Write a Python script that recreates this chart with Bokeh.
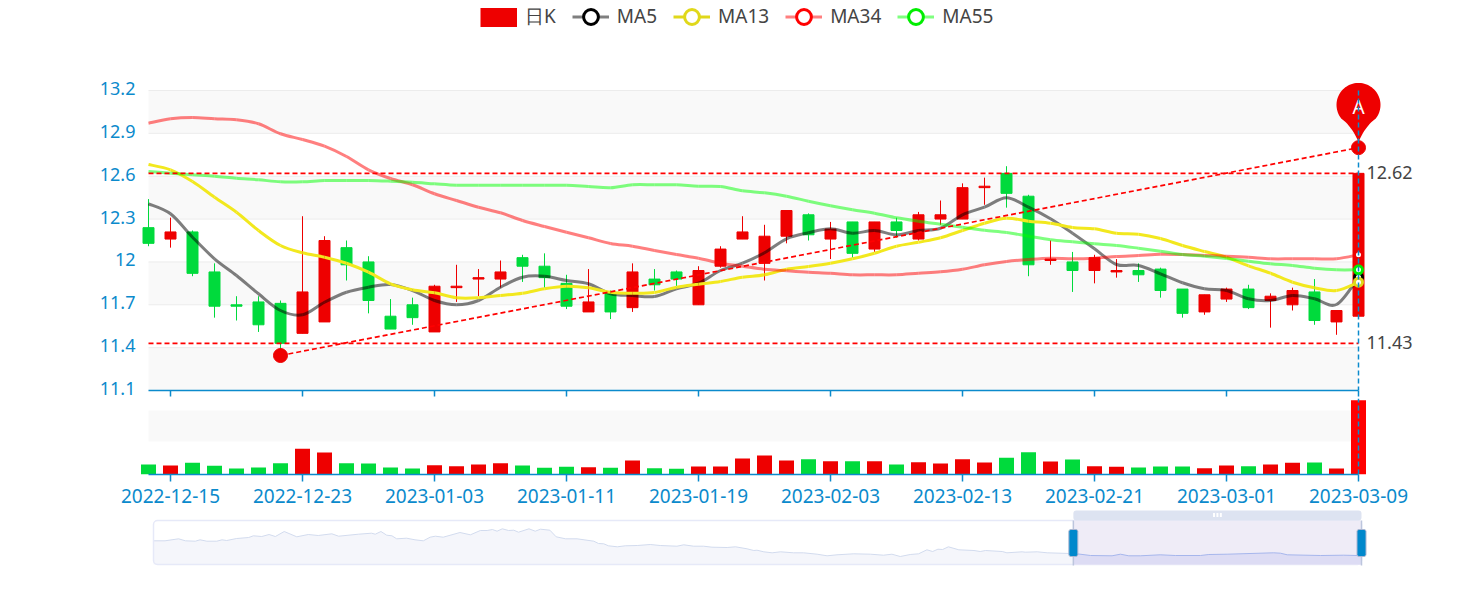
from bokeh.plotting import figure
from bokeh.layouts import column
from bokeh.models import (FixedTicker, Range1d, Legend, LegendItem, LinearAxis)
from bokeh.core.properties import value
from bokeh.embed import file_html
from bokeh.resources import INLINE
import numpy as np

# ---------- data ----------
tick_index = [1, 7, 13, 19, 25, 31, 37, 43, 49, 55]
tick_dates = ["2022-12-15", "2022-12-23", "2023-01-03", "2023-01-11", "2023-01-19",
              "2023-02-03", "2023-02-13", "2023-02-21", "2023-03-01", "2023-03-09"]
price_ticks = [11.1, 11.4, 11.7, 12.0, 12.3, 12.6, 12.9, 13.2]
price_labels = ["11.1", "11.4", "11.7", "12", "12.3", "12.6", "12.9", "13.2"]

open_ = [12.24,12.16,12.21,11.93,11.70,11.72,11.71,11.50,11.58,12.10,12.00,11.62,11.70,11.51,
         11.82,11.88,11.88,12.03,11.97,11.85,11.65,11.78,11.68,11.88,11.93,11.70,11.97,12.16,
         11.99,12.18,12.33,12.16,12.28,12.09,12.28,12.16,12.30,12.30,12.52,12.62,12.46,12.01,
         12.00,11.94,11.93,11.94,11.95,11.81,11.65,11.74,11.81,11.73,11.70,11.79,11.58,11.62]
close = [12.13,12.21,11.92,11.69,11.69,11.56,11.43,11.79,12.15,11.98,11.73,11.53,11.61,11.83,
         11.83,11.89,11.93,11.97,11.89,11.69,11.72,11.65,11.93,11.84,11.88,11.94,12.09,12.21,
         12.18,12.36,12.19,12.23,12.06,12.28,12.22,12.33,12.33,12.52,12.53,12.48,11.98,12.02,
         11.94,12.03,11.94,11.91,11.80,11.64,11.77,11.81,11.68,11.76,11.80,11.59,11.66,12.62]
low = [12.11,12.10,11.90,11.61,11.59,11.51,11.39,11.50,11.58,11.87,11.64,11.53,11.56,11.51,
       11.72,11.76,11.82,11.86,11.82,11.67,11.65,11.60,11.65,11.80,11.83,11.70,11.96,12.16,
       11.87,12.13,12.15,12.02,12.03,12.07,12.17,12.15,12.26,12.30,12.40,12.38,11.90,11.98,
       11.79,11.85,11.89,11.86,11.75,11.61,11.63,11.72,11.67,11.54,11.66,11.56,11.49,11.62]
high = [12.44,12.31,12.22,11.99,11.76,11.76,11.73,12.32,12.18,12.15,12.04,11.74,11.75,11.84,
        11.98,11.95,12.01,12.05,12.06,11.91,11.95,11.80,11.99,11.95,11.94,11.97,12.11,12.32,
        12.26,12.36,12.34,12.28,12.28,12.28,12.31,12.35,12.43,12.55,12.59,12.67,12.47,12.15,
        12.07,12.05,12.02,11.99,11.96,11.81,11.77,11.82,11.84,11.78,11.82,11.88,11.66,12.62]

ma5 = [12.407,12.337,12.173,12.022,11.905,11.777,11.66,11.63,11.718,11.788,11.823,11.842,11.80,11.73,
       11.70,11.73,11.823,11.893,11.90,11.87,11.847,11.777,11.765,11.758,11.812,11.851,11.94,11.991,
       12.064,12.162,12.204,12.232,12.201,12.22,12.19,12.22,12.236,12.33,12.383,12.449,12.383,12.302,
       12.201,12.092,11.982,11.975,11.917,11.854,11.812,11.80,11.742,11.73,11.765,11.742,11.702,11.893]
ma13 = [12.682,12.645,12.563,12.453,12.348,12.22,12.115,12.064,12.033,11.991,11.928,11.847,11.805,11.784,
        11.749,11.749,11.765,11.781,11.812,11.83,11.819,11.788,11.781,11.786,11.823,11.844,11.863,11.893,
        11.91,11.949,11.968,11.991,12.022,12.061,12.11,12.138,12.169,12.22,12.271,12.306,12.285,12.271,
        12.241,12.232,12.201,12.194,12.164,12.115,12.073,12.033,11.973,11.921,11.858,11.819,11.80,11.858]
ma34 = [12.971,13.002,13.011,13.002,12.995,12.967,12.897,12.857,12.81,12.738,12.645,12.584,12.54,12.477,
        12.43,12.383,12.344,12.29,12.248,12.208,12.169,12.129,12.11,12.08,12.052,12.026,11.991,11.97,
        11.949,11.938,11.928,11.921,11.91,11.91,11.91,11.921,11.931,11.949,11.98,12.003,12.017,12.026,
        12.022,12.026,12.038,12.045,12.054,12.052,12.045,12.04,12.033,12.022,12.022,12.022,12.022,12.05]
ma55 = [12.633,12.621,12.61,12.60,12.586,12.575,12.561,12.561,12.57,12.57,12.57,12.565,12.558,12.547,
        12.537,12.537,12.537,12.537,12.537,12.537,12.528,12.519,12.54,12.54,12.54,12.53,12.528,12.498,
        12.484,12.46,12.425,12.393,12.365,12.341,12.309,12.285,12.264,12.243,12.222,12.206,12.18,12.155,
        12.141,12.127,12.115,12.096,12.075,12.052,12.04,12.024,12.005,11.987,11.975,11.956,11.945,11.945]

volume = [10,9,11.7,8.7,6,7,11.3,25.7,22,11.3,11,7,6,9.3,8.3,10,11.3,9,6.7,7.7,7.3,6.7,14,6.3,5.7,8,8,16,
          19,14,15.3,13.3,13.3,13.3,10,12.3,11,15.3,12,16.7,22.3,13,15,8.3,7.7,7,8,8,6.3,9,8.3,10,11.7,12,6,74.3]
volume_band = [33, 64]

mark_high = 12.62
mark_low = 11.43
trend_index = [6, 55]
trend_price = [11.345, 12.80]
pin_index = 55
pin_price = 12.84

shadow_day = [0,2.2,4.8,6.1,8,8.9,10.2,12.1,13.1,14,15.9,18.2,19.1,20.7,22.1,23.3,25,27.4,29.6,31.5,34.1,35.4,39.2,41.7,
              42.4,43.5,44.6,45.6,46.5,48.4,50,51.6,52.9,53.9,55.4,58.6,60.6,62.5,63.8,64.8,65.7,66.7,67.9,68.9,69.8,
              71.8,73,74,75.8,77,78.8,81,84.2,85.1,86.1,87,88.7,90.2,92.5,95,96.9,100.1,101.4,103.3,105.2,106.8,109.7,
              111.3,113.5,114.8,115.4,116.7,118.3,119.9,122.4,124.3,126.9,128.8,130.7,133.9,137.1,139.6,141.2,142.8,
              144.7,146.3,147.9,149,150,150.9,152,154,156.9,158.1,159.1,162.3,163.2,166.1,166.7,169,170.9,175.3,176.6,
              179.2,183.3,184.9,186.5,188.7,192.5,195.4,200.2,201.8,205.3,214.2,215.5,216.8,223.2,227.6,230.2,231]
shadow_level = [23.7,23.7,25.7,23.7,23.3,24.7,23.3,23.3,24.7,24,26,27,28.7,28,30,28,33,27.7,30,29,30.7,28.3,30.3,31.3,
                30.3,33,29.3,28.7,25.7,26.3,24.7,23.7,27.3,28.3,27.3,32,29.7,34,34,35,33.3,35.7,34,34.3,32.3,
                35.7,33.3,35.3,34.3,27.7,25.7,25.7,23.3,21,20.7,18.7,17.7,18.7,19,20,19,18.3,19.7,18.3,18.3,17.3,17,
                17.7,15.7,14,14.3,12.7,11.7,12.7,11.7,11.7,10.3,8.7,9.7,10.7,10.3,9.3,10.3,8,
                10,10.7,14.7,13,15.3,15,17.7,14.7,14,13,14,13,11.7,12.7,12.3,12.7,11.7,11,10.7,
                9,8.7,10.3,8.7,8.7,9.7,9,9,10,10.3,11.7,11.3,9.7,9,9.3,9,9]
selection_days = (175.9, 231.0)

# ---------- styling ----------
RED, GREEN = "#ee0000", "#00da3c"
BLUE = "#0b8acc"
FONT = "Noto Sans"
FS = "18px"
idx = np.arange(len(close))
PX_X = 22.0
PX_Y = 1 / 0.007
Y_TOP = 13.2 + (90 - 8) / PX_Y
LEFT = 140          # frame starts here on the page
X_RANGE = (-8 / PX_X, (1460 - 148) / PX_X)


def base(frame_h, total_h, xr, yr, top, bottom):
    f = figure(output_backend="svg", toolbar_location=None, x_range=xr, y_range=yr,
               width=1460, height=total_h, frame_height=frame_h,
               min_border_left=LEFT, min_border_right=0, min_border_top=top, min_border_bottom=bottom,
               outline_line_color=None, background_fill_color="white", border_fill_color="white")
    f.grid.visible = False
    return f


def style_xaxis(f):
    ax = f.xaxis[0]
    ax.ticker = FixedTicker(ticks=tick_index)
    ax.bounds = (0, len(close) - 1)
    ax.axis_line_color = BLUE
    ax.axis_line_width = 1.5
    ax.major_tick_line_color = BLUE
    ax.major_tick_line_width = 1.5
    ax.major_tick_in = 0
    ax.minor_tick_line_color = None
    return ax


def smooth(f, ys, **kw):
    y = np.array(ys)
    x = idx.astype(float)
    xm1 = np.r_[x[0], x[:-1]]
    xp1 = np.r_[x[1:], x[-1]]
    ym1 = np.r_[y[0], y[:-1]]
    yp1 = np.r_[y[1:], y[-1]]
    dx = (xp1 - xm1) / 6
    dy = (yp1 - ym1) / 6
    f.bezier(x0=x[:-1], y0=y[:-1], x1=x[1:], y1=y[1:],
             cx0=x[:-1] + dx[:-1], cy0=y[:-1] + dy[:-1],
             cx1=x[1:] - dx[1:], cy1=y[1:] - dy[1:],
             line_cap="butt", **kw)


# ---------- price chart ----------
p1 = base(382, 398, Range1d(*X_RANGE), Range1d(11.1, Y_TOP), 8, 8)
ax = style_xaxis(p1)
ax.major_tick_out = 6
ax.major_label_text_font_size = "0px"
ax.major_label_standoff = 0
ax.major_label_overrides = {t: "" for t in tick_index}

# the value labels sit 2px above their split lines, as in the reference
p1.yaxis.visible = False
p1.extra_y_ranges = {"labels": Range1d(11.1 - 2 / PX_Y, Y_TOP - 2 / PX_Y)}
yax = LinearAxis(y_range_name="labels")
yax.ticker = FixedTicker(ticks=price_ticks)
yax.major_label_overrides = dict(zip(price_ticks, price_labels))
yax.axis_line_color = None
yax.major_tick_line_color = None
yax.minor_tick_line_color = None
yax.major_tick_out = 0
yax.major_tick_in = 0
yax.major_label_standoff = 5
yax.major_label_text_color = BLUE
yax.major_label_text_font = FONT
yax.major_label_text_font_size = FS
p1.add_layout(yax, "left")

p1.quad(left=0, right=idx[-1], bottom=price_ticks[0::2], top=price_ticks[1::2],
        fill_color="#f9f9f9", line_color=None)
p1.segment(x0=0, x1=idx[-1], y0=price_ticks, y1=price_ticks, line_color="#ececec", line_width=1)

o, c, lo, hi = map(np.array, (open_, close, low, high))
col = np.where(c >= o, RED, GREEN)
p1.segment(x0=idx, x1=idx, y0=lo, y1=hi, line_color=col.tolist(), line_width=1)
p1.vbar(x=idx, width=11 / PX_X, bottom=np.minimum(o, c), top=np.maximum(o, c),
        fill_color=col.tolist(), line_color=col.tolist(), line_width=1)

smooth(p1, ma5, line_color="#000000", line_alpha=0.5, line_width=3)
smooth(p1, ma13, line_color="#f2e81e", line_alpha=1.0, line_width=3)
smooth(p1, ma34, line_color="#ff0000", line_alpha=0.5, line_width=3)
smooth(p1, ma55, line_color="#00ff00", line_alpha=0.5, line_width=3)

# marks
p1.segment(x0=0, x1=idx[-1], y0=[mark_high, mark_low], y1=[mark_high, mark_low],
           line_color="#ff0000", line_width=1.7, line_dash="5 3")
p1.line(trend_index, trend_price, line_color="#ff0000", line_width=1.7, line_dash="5 3")
p1.scatter(trend_index, trend_price, size=14, fill_color="#ee0000", line_color="#ee0000", line_width=1)

# pin drawn relative to its value
R, H = 22.0, 37.0
ang = np.radians(np.linspace(-38, 218, 60))
px = R * np.cos(ang)
py = H + R * np.sin(ang)
t = np.linspace(0, 1, 14)
cx, cy = 7.0, H - R * 0.95
xs_r = (1 - t) ** 2 * px[0] + 2 * t * (1 - t) * cx
ys_r = (1 - t) ** 2 * py[0] + 2 * t * (1 - t) * cy
outline_x = np.r_[xs_r[::-1], px, -xs_r]
outline_y = np.r_[ys_r[::-1], py, ys_r]
p1.patch(pin_index + outline_x / PX_X, pin_price + outline_y / PX_Y, fill_color="#ee0000", line_color=None)
p1.text([pin_index], [pin_price], text=["A"], text_color="white", text_font=value(FONT),
        text_font_size="19px", text_align="center", text_baseline="middle", y_offset=-35)

p1.text([idx[-1]] * 2, [mark_high, mark_low], text=[f"{mark_high:.2f}", f"{mark_low:.2f}"],
        text_color="#444444", text_font=value(FONT), text_font_size=FS,
        text_align="left", text_baseline="middle", x_offset=8, y_offset=-1)

# end rings
for arr, colr in ((ma5, "#000000"), (ma34, "#ee0000"), (ma13, "#e0d81a"), (ma55, "#00ee00")):
    p1.scatter([idx[-1]], [arr[-1]], size=8, fill_color="white", line_color=colr, line_width=3)

p1.segment(x0=[idx[-1]], x1=[idx[-1]], y0=[price_ticks[-1]], y1=[price_ticks[0]],
           line_color=BLUE, line_width=1.5, line_dash="5 3")

# legend keys (no marks of their own in the plot: their one point is undefined)
nan = [float("nan")]
k_proxy = p1.line(nan, nan, line_color=RED, line_width=20)
items = [LegendItem(label="日K", renderers=[k_proxy])]
for name, lc, la, ring in (("MA5", "#000000", 0.5, "#000000"), ("MA13", "#e0d81a", 1.0, "#e0d81a"),
                           ("MA34", "#ff0000", 0.5, "#ff0000"), ("MA55", "#00ff00", 0.5, "#00ee00")):
    ln = p1.line(nan, nan, line_color=lc, line_alpha=la, line_width=3)
    sc = p1.scatter(nan, nan, size=15, fill_color="white", line_color=ring, line_width=3)
    items.append(LegendItem(label=name, renderers=[ln, sc]))
legend = Legend(items=items, orientation="horizontal", location=(340, 355.5), padding=0, margin=0,
                border_line_color=None, background_fill_color=None, background_fill_alpha=0,
                glyph_width=37, glyph_height=37, label_standoff=8, spacing=16,
                label_text_font=FONT, label_text_font_size="19px", label_text_color="#444444")
p1.add_layout(legend)

# ---------- volume chart ----------
p2 = base(76, 110, Range1d(*X_RANGE), Range1d(0, 76), 0, 34)
ax2 = style_xaxis(p2)
ax2.major_tick_out = 7
ax2.major_label_standoff = 7
ax2.major_label_overrides = dict(zip(tick_index, tick_dates))
ax2.major_label_text_color = BLUE
ax2.major_label_text_font = FONT
ax2.major_label_text_font_size = "19px"
p2.yaxis.visible = False
p2.quad(left=0, right=idx[-1], bottom=volume_band[0], top=volume_band[1], fill_color="#f9f9f9", line_color=None)
vcol = col.tolist()
vcol[-1] = "#ff0000"
p2.vbar(x=idx, width=15 / PX_X, bottom=0, top=volume, fill_color=vcol, line_color=None)
p2.segment(x0=[idx[-1]], x1=[idx[-1]], y0=[0], y1=[76], line_color=BLUE, line_width=1.5, line_dash="5 3")

# ---------- data zoom ----------
K = 1208 / 231
p3 = base(62, 62, Range1d((LEFT - 153) / K, (1460 - 153) / K), Range1d(-6, 56), 0, 0)
p3.xaxis.visible = False
p3.yaxis.visible = False
sd, sl = np.array(shadow_day), np.array(shadow_level)
p3.varea(sd, 0, sl, fill_color="#f5f6fb")
p3.line(sd, sl, line_color="#d2dbee", line_width=1)
p3.quad(left=0, right=selection_days[1], bottom=0, top=44, fill_color=None, line_color="#e6e9f8",
        line_width=1.5, border_radius=4)
a, b = selection_days
p3.quad(left=a, right=b, bottom=0, top=44, fill_color="#efecf7", line_color=None)
mask = sd >= a
sel_x = np.r_[a, sd[mask]]
sel_y = np.r_[np.interp(a, sd, sl), sl[mask]]
p3.varea(sel_x, 0, sel_y, fill_color="#dddcf4")
p3.line(sel_x, sel_y, line_color="#a6b6ec", line_width=1)
p3.quad(left=a, right=b, bottom=44, top=54, fill_color="#dde3f1", line_color=None,
        border_radius=3)
mid = (a + b) / 2
p3.segment(x0=[mid - 0.65, mid, mid + 0.65], x1=[mid - 0.65, mid, mid + 0.65], y0=47.5, y1=51.5,
           line_color="white", line_width=2)
p3.segment(x0=[a, b], x1=[a, b], y0=-1, y1=44, line_color="#bcc5dd", line_width=1.5)
hw = 4.5 / K
p3.quad(left=[a - hw, b - hw], right=[a + hw, b + hw], bottom=8, top=35, fill_color="#0088cc",
        line_color="#aab6d2", line_width=1, border_radius=2)

page = column(p1, p2, p3, spacing=0)
open("out.html", "w").write(file_html(page, INLINE))
